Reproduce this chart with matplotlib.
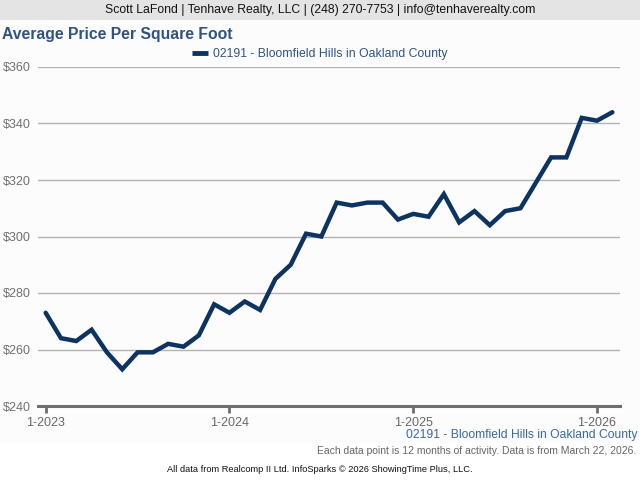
import matplotlib
matplotlib.use("Agg")
import matplotlib.pyplot as plt
from matplotlib.patches import Rectangle

plt.rcParams['font.family'] = ['Liberation Sans', 'DejaVu Sans']

months = ["1-2023", "2-2023", "3-2023", "4-2023", "5-2023", "6-2023", "7-2023", "8-2023",
          "9-2023", "10-2023", "11-2023", "12-2023",
          "1-2024", "2-2024", "3-2024", "4-2024", "5-2024", "6-2024", "7-2024", "8-2024",
          "9-2024", "10-2024", "11-2024", "12-2024",
          "1-2025", "2-2025", "3-2025", "4-2025", "5-2025", "6-2025", "7-2025", "8-2025",
          "9-2025", "10-2025", "11-2025", "12-2025",
          "1-2026", "2-2026"]
values = [273, 264, 263, 267, 259, 253, 259, 259, 262, 261, 265, 276,
          273, 277, 274, 285, 290, 301, 300, 312, 311, 312, 312, 306,
          308, 307, 315, 305, 309, 304, 309, 310, 319, 328, 328, 342,
          341, 344]
series_name = "02191 - Bloomfield Hills in Oakland County"
tick_labels = ["1-2023", "1-2024", "1-2025", "1-2026"]
y_ticks = [240, 260, 280, 300, 320, 340, 360]

W, H = 640, 480
fig = plt.figure(figsize=(6.4, 4.8), dpi=100)
fig.patch.set_facecolor("white")

# header band and panel background
fig.patches.append(Rectangle((0, 1 - 20 / H), 1, 20 / H, transform=fig.transFigure,
                             facecolor="#e4e4e4", edgecolor="none", zorder=-10))
fig.patches.append(Rectangle((0, 1 - 443 / H), 1, (443 - 20) / H, transform=fig.transFigure,
                             facecolor="#fcfcfc", edgecolor="none", zorder=-10))

fig.text(320 / W, 1 - 10 / H, "Scott LaFond | Tenhave Realty, LLC | (248) 270-7753 | info@tenhaverealty.com",
         ha="center", va="center", fontsize=8.8, color="#111111")
fig.text(2 / W, 1 - 34 / H, "Average Price Per Square Foot", ha="left", va="center",
         fontsize=11.3, fontweight="bold", color="#2f5382")

left, right, top, bottom = 38, 620, 67, 406
ax = fig.add_axes([left / W, 1 - bottom / H, (right - left) / W, (bottom - top) / H])
ax.set_facecolor("none")
x = list(range(len(values)))
ax.plot(x, values, color="#0d3461", linewidth=3.2, solid_joinstyle="miter",
        solid_capstyle="round", zorder=3, label=series_name)
ax.set_xlim(-0.5, 37.5)
ax.set_ylim(240, 360)
ax.set_yticks(y_ticks)
ax.set_yticklabels([f"${v}" for v in y_ticks])
ax.set_xticks([months.index(t) for t in tick_labels])
ax.set_xticklabels(tick_labels)
ax.grid(axis="y", color="#b3b3b3", linewidth=1)
ax.set_axisbelow(True)
for s in ["top", "right", "left"]:
    ax.spines[s].set_visible(False)
ax.spines["bottom"].set_color("#6e6e6e")
ax.spines["bottom"].set_linewidth(2.2)
ax.tick_params(axis="y", length=0, pad=5, labelsize=9, labelcolor="#707070")
ax.tick_params(axis="x", length=5, width=2, color="#6e6e6e", pad=3, labelsize=9,
               labelcolor="#666666")

leg = fig.legend(loc="center", bbox_to_anchor=(320 / W, 1 - 54 / H), frameon=False,
                 fontsize=8.8, handlelength=1.3, handletextpad=0.4, borderpad=0)
for t in leg.get_texts():
    t.set_color("#2f5382")
for h in leg.legend_handles:
    h.set_solid_capstyle("butt")
    h.set_linewidth(3.5)

fig.text(638 / W, 1 - 435 / H, series_name, ha="right", va="center", fontsize=8.7,
         color="#3a6aa0")
fig.text(636 / W, 1 - 451 / H, "Each data point is 12 months of activity. Data is from March 22, 2026.",
         ha="right", va="center", fontsize=7.5, color="#666666")
fig.text(320 / W, 1 - 469 / H, "All data from Realcomp II Ltd. InfoSparks \u00a9 2026 ShowingTime Plus, LLC.",
         ha="center", va="center", fontsize=6.7, color="#111111")

fig.savefig("out.png", dpi=100)
